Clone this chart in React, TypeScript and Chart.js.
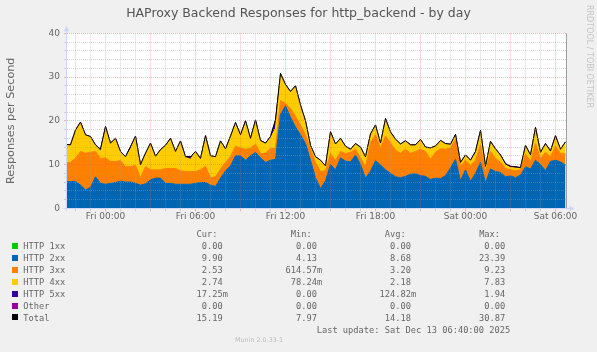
import React, { useEffect, useRef } from "react";
import { Chart, registerables } from "chart.js";

Chart.register(...registerables);

// ---- time axis: samples every 20 minutes, hours relative to Fri 00:00 ----
const startHour = -8 / 3;
const stepHours = 1 / 3;
const xMin = -2.567;
const xMax = 30.733;
const hourTicks: number[] = [];
for (let h = -2; h <= 30; h++) hourTicks.push(h);
const dayNames = ["Fri", "Sat"];

// ---- series values (responses per second) ----
const http1xx = [
  0, 0, 0, 0, 0, 0, 0, 0, 0, 0, 0, 0, 0, 0, 0, 0, 0, 0, 0, 0,
  0, 0, 0, 0, 0, 0, 0, 0, 0, 0, 0, 0, 0, 0, 0, 0, 0, 0, 0, 0,
  0, 0, 0, 0, 0, 0, 0, 0, 0, 0, 0, 0, 0, 0, 0, 0, 0, 0, 0, 0,
  0, 0, 0, 0, 0, 0, 0, 0, 0, 0, 0, 0, 0, 0, 0, 0, 0, 0, 0, 0,
  0, 0, 0, 0, 0, 0, 0, 0, 0, 0, 0, 0, 0, 0, 0, 0, 0, 0, 0, 0, 0,
];
const http2xx = [
  6.1, 6.1, 6.1, 5.3, 4.2, 4.8, 7.2, 5.7, 5.5, 5.7, 5.9, 6.2, 6.0, 6.0, 5.7, 5.3, 5.6, 6.5, 6.9, 6.9,
  5.7, 5.7, 5.5, 5.5, 5.5, 5.5, 5.7, 5.9, 5.9, 5.3, 5.0, 6.9, 8.6, 9.7, 12.0, 12.0, 11.0, 12.0, 12.8, 11.5,
  10.5, 11.0, 11.2, 21.5, 23.4, 20.8, 18.6, 16.8, 14.8, 11.0, 7.0, 4.5, 6.3, 10.0, 8.8, 11.5, 10.8, 10.6, 12.2, 10.0,
  6.9, 8.5, 10.9, 9.9, 8.8, 8.0, 7.2, 7.0, 7.3, 7.8, 7.9, 7.5, 7.3, 6.6, 6.9, 6.8, 7.5, 9.2, 11.2, 6.3,
  8.8, 6.2, 8.0, 10.5, 5.8, 9.0, 8.4, 8.2, 7.2, 7.4, 7.0, 7.6, 9.5, 9.0, 11.0, 10.0, 8.6, 10.7, 11.0, 10.6, 9.9,
];
const http3xx = [
  4.2, 4.4, 5.4, 7.7, 8.4, 8.0, 5.8, 5.7, 6.0, 5.0, 4.8, 4.7, 3.5, 3.5, 4.1, 1.7, 3.9, 2.3, 1.9, 1.9,
  3.4, 3.4, 3.6, 3.1, 2.9, 2.9, 2.7, 2.9, 3.7, 1.7, 2.2, 2.1, 1.9, 2.1, 2.2, 1.8, 2.5, 1.7, 1.9, 1.0,
  2.1, 2.7, 2.5, 3.1, 0.6, 2.0, 2.4, 2.2, 2.0, 2.5, 3.5, 3.9, 2.3, 2.5, 2.2, 1.5, 1.7, 2.2, 1.3, 1.5,
  2.6, 6.5, 5.9, 3.9, 7.7, 7.0, 6.1, 5.6, 6.2, 4.8, 5.1, 6.0, 5.7, 4.6, 5.9, 6.8, 6.0, 4.6, 4.6, 3.2,
  2.2, 3.6, 3.0, 4.0, 2.4, 4.0, 3.0, 2.3, 1.9, 1.4, 1.6, 1.2, 2.9, 1.7, 3.8, 1.4, 4.2, 1.1, 3.2, 1.9, 2.53,
];
const http4xx = [
  4.2, 3.9, 6.3, 6.6, 4.1, 3.5, 1.4, 1.6, 7.1, 4.1, 5.2, 2.0, 2.2, 4.0, 6.6, 2.9, 3.0, 6.0, 3.0, 4.5,
  5.2, 6.8, 3.8, 6.7, 3.2, 2.8, 4.5, 2.5, 6.9, 4.9, 4.5, 6.3, 3.0, 4.6, 5.3, 2.9, 6.4, 2.2, 5.4, 2.9,
  2.2, 2.4, 4.6, 6.1, 4.2, 3.8, 6.9, 4.5, 3.1, 0.8, 1.2, 2.5, 1.0, 4.9, 3.6, 2.9, 1.6, 0.6, 1.2, 2.4,
  2.2, 1.9, 2.2, 1.0, 3.9, 2.4, 2.4, 2.0, 1.9, 1.8, 1.4, 2.2, 0.9, 2.5, 1.4, 1.8, 1.2, 0.8, 1.0, 0.9,
  1.1, 1.1, 1.6, 3.2, 1.3, 2.2, 2.1, 1.5, 0.8, 0.5, 0.6, 0.4, 1.9, 1.4, 3.6, 1.3, 1.9, 1.2, 2.3, 0.9, 2.74,
];
const http5xx = [
  0.1, 0.1, 0.1, 0.1, 0.1, 0.1, 0.1, 0.5, 0.1, 0.1, 0.1, 0.1, 0.1, 0.6, 0.1, 0.1, 0.1, 0.1, 0.1, 0.1,
  0.1, 0.1, 0.1, 0.1, 0.2, 0.6, 0.1, 0.1, 0.1, 0.1, 0.1, 0.1, 0.1, 0.1, 0.1, 0.1, 0.1, 0.1, 0.1, 0.1,
  0.1, 0.3, 1.9, 0.1, 0.1, 0.1, 0.1, 0.1, 0.1, 0.1, 0.1, 0.1, 0.1, 0.1, 0.1, 0.1, 0.1, 0.1, 0.1, 0.1,
  0.05, 0.1, 0.05, 0.1, 0.1, 0.05, 0.1, 0.1, 0.05, 0.1, 0.1, 0.05, 0.1, 0.1, 0.05, 0.1, 0.1, 0.05, 0.1, 0.1,
  0.1, 0.1, 0.4, 0.1, 0.1, 0.1, 0.1, 0.2, 0.3, 0.3, 0.3, 0.1, 0.1, 0.1, 0.1, 0.1, 0.1, 0.1, 0.1, 0.1, 0.02,
];
const httpOther = [
  0, 0, 0, 0, 0, 0, 0, 0, 0, 0, 0, 0, 0, 0, 0, 0, 0, 0, 0, 0,
  0, 0, 0, 0, 0, 0, 0, 0, 0, 0, 0, 0, 0, 0, 0, 0, 0, 0, 0, 0,
  0, 0, 0, 0, 0, 0, 0, 0, 0, 0, 0, 0, 0, 0, 0, 0, 0, 0, 0, 0,
  0, 0, 0, 0, 0, 0, 0, 0, 0, 0, 0, 0, 0, 0, 0, 0, 0, 0, 0, 0,
  0, 0, 0, 0, 0, 0, 0, 0, 0, 0, 0, 0, 0, 0, 0, 0, 0, 0, 0, 0, 0,
];

// ---- legend table ----
const legendNames = ["HTTP 1xx", "HTTP 2xx", "HTTP 3xx", "HTTP 4xx", "HTTP 5xx", "Other", "Total"];
const legendColors = ["#00CC00", "#0066B3", "#FF8000", "#FFCC00", "#330099", "#990099", "#000000"];
const curValues = ["0.00", "9.90", "2.53", "2.74", "17.25m", "0.00", "15.19"];
const minValues = ["0.00", "4.13", "614.57m", "78.24m", "0.00", "0.00", "7.97"];
const avgValues = ["0.00", "8.68", "3.20", "2.18", "124.82m", "0.00", "14.18"];
const maxValues = ["0.00", "23.39", "9.23", "7.83", "1.94", "0.00", "30.87"];
const columnHeaders = ["Cur:", "Min:", "Avg:", "Max:"];

const titleText = "HAProxy Backend Responses for http_backend - by day";
const yTitle = "Responses per Second";
const lastUpdate = "Last update: Sat Dec 13 06:40:00 2025";
const footer = "Munin 2.0.33-1";
const sideText = "RRDTOOL / TOBI OETIKER";

const MONO = "'DejaVu Sans Mono', monospace";
const SANS = "'DejaVu Sans', sans-serif";
const FONT_COLOR = "#666666";
const MINOR = "rgba(160,160,160,0.42)";
const MAJOR = "rgba(235,90,90,0.42)";
const AXIS = "#CFD6F8";

function fmtField(v: string): string {
  const hasSuffix = /[a-zA-Z]$/.test(v);
  const num = hasSuffix ? v.slice(0, -1) : v;
  const suf = hasSuffix ? v.slice(-1) : " ";
  return num.padStart(6, " ") + suf;
}

export default function App() {
  const canvasRef = useRef<HTMLCanvasElement | null>(null);

  useEffect(() => {
    if (!canvasRef.current) return;
    const times = http2xx.map((_, i) => startHour + i * stepHours);
    const pts = (arr: number[]) => arr.map((v, i) => ({ x: times[i], y: v }));
    const total = http2xx.map(
      (_, i) => http1xx[i] + http2xx[i] + http3xx[i] + http4xx[i] + http5xx[i] + httpOther[i]
    );

    const area = (label: string, data: number[], color: string, fill: any, bw = 1) => ({
      label,
      data: pts(data),
      yAxisID: "y",
      backgroundColor: color,
      borderColor: color,
      borderWidth: bw,
      pointRadius: 0,
      tension: 0,
      fill,
    });

    const plugin = {
      id: "muninFrame",
      beforeDraw(chart: any) {
        const { ctx, chartArea } = chart;
        ctx.save();
        ctx.fillStyle = "#F0F0F0";
        ctx.fillRect(0, 0, chart.width, chart.height);
        ctx.fillStyle = "#FFFFFF";
        ctx.fillRect(chartArea.left, chartArea.top, chartArea.right - chartArea.left, chartArea.bottom - chartArea.top);
        ctx.restore();
      },
      afterDraw(chart: any) {
        const { ctx, chartArea } = chart;
        const b = Math.round(chartArea.bottom) + 0.5;
        const l = Math.round(chartArea.left) - 0.5;
        const r = Math.round(chartArea.right) + 0.5;
        ctx.save();
        ctx.strokeStyle = "#A0A0A0";
        ctx.lineWidth = 1;
        ctx.beginPath();
        ctx.moveTo(r - 1, chartArea.top);
        ctx.lineTo(r - 1, b);
        ctx.stroke();
        ctx.strokeStyle = AXIS;
        ctx.fillStyle = AXIS;
        ctx.beginPath();
        ctx.moveTo(l - 3, b);
        ctx.lineTo(r + 3, b);
        ctx.moveTo(l, b + 3);
        ctx.lineTo(l, chartArea.top - 3);
        ctx.stroke();
        ctx.beginPath();
        ctx.moveTo(r + 7, b);
        ctx.lineTo(r + 2, b - 3);
        ctx.lineTo(r + 2, b + 3);
        ctx.closePath();
        ctx.fill();
        ctx.beginPath();
        ctx.moveTo(l, chartArea.top - 7);
        ctx.lineTo(l - 3, chartArea.top - 2);
        ctx.lineTo(l + 3, chartArea.top - 2);
        ctx.closePath();
        ctx.fill();
        ctx.restore();
      },
    };

    const chart = new Chart(canvasRef.current, {
      type: "line",
      data: {
        datasets: [
          {
            label: "Total",
            data: pts(total),
            yAxisID: "yT",
            borderColor: "#000000",
            borderWidth: 1,
            pointRadius: 0,
            tension: 0,
            fill: false,
          },
          area(legendNames[0], http1xx, legendColors[0], "origin", 0),
          area(legendNames[1], http2xx, legendColors[1], "-1"),
          area(legendNames[2], http3xx, legendColors[2], "-1"),
          area(legendNames[3], http4xx, legendColors[3], "-1"),
          area(legendNames[4], http5xx, legendColors[4], "-1"),
          area(legendNames[5], httpOther, legendColors[5], "-1", 0),
        ] as any,
      },
      options: {
        responsive: false,
        animation: false,
        devicePixelRatio: 1,
        layout: { padding: { left: 0, right: 30.5, top: 33.3, bottom: 127.7 } },
        plugins: { legend: { display: false }, tooltip: { enabled: false }, title: { display: false } },
        scales: {
          x: {
            type: "linear",
            min: xMin,
            max: xMax,
            afterBuildTicks: (s: any) => {
              s.ticks = hourTicks.map((v) => ({ value: v }));
            },
            afterFit: (s: any) => {
              s.height = 16;
            },
            grid: {
              z: 1,
              lineWidth: 1,
              drawTicks: true,
              tickLength: 3,
              color: (c: any) => (c.tick && c.tick.value % 3 === 0 ? MAJOR : MINOR),
            },
            border: { display: false, dash: [1, 1] },
            ticks: {
              autoSkip: false,
              maxRotation: 0,
              minRotation: 0,
              padding: 0,
              color: FONT_COLOR,
              font: { family: SANS, size: 9 },
              callback: (v: any) => {
                const h = Number(v);
                if (h % 6 !== 0) return "";
                const day = dayNames[Math.floor(h / 24)];
                const hh = ((h % 24) + 24) % 24;
                return `${day} ${String(hh).padStart(2, "0")}:00`;
              },
            },
          },
          y: {
            stacked: true,
            min: 0,
            max: 40,
            afterBuildTicks: (s: any) => {
              const t = [];
              for (let v = 0; v <= 40; v += 2) t.push({ value: v });
              s.ticks = t;
            },
            afterFit: (s: any) => {
              s.width = 67;
            },
            grid: {
              z: 1,
              lineWidth: 1,
              drawTicks: true,
              tickLength: 3,
              color: (c: any) => (c.tick && c.tick.value % 10 === 0 ? MAJOR : MINOR),
            },
            border: { display: false, dash: [1, 1] },
            ticks: {
              autoSkip: false,
              padding: 4,
              color: FONT_COLOR,
              font: { family: SANS, size: 9 },
              callback: (v: any) => (Number(v) % 10 === 0 ? String(v) : ""),
            },
            title: {
              display: true,
              text: yTitle,
              color: FONT_COLOR,
              font: { family: SANS, size: 11.2 },
              padding: { top: 4, bottom: 0 },
            },
          },
          yT: { display: false, min: 0, max: 40 },
        },
      } as any,
      plugins: [plugin],
    });
    return () => chart.destroy();
  }, []);

  const cw = 5.237;
  const colStarts = [191.3, 285.6, 379.6, 473.9];
  const rowCenters = [245.7, 257.7, 269.7, 281.7, 293.7, 305.5, 317.4];
  const monoStyle: React.CSSProperties = {
    position: "absolute",
    fontFamily: MONO,
    fontSize: "8.7px",
    lineHeight: "12px",
    color: FONT_COLOR,
    whiteSpace: "pre",
    margin: 0,
  };
  const columns = [curValues, minValues, avgValues, maxValues];

  return (
    <div
      style={{
        position: "fixed",
        left: 0,
        top: 0,
        width: 597,
        height: 352,
        background: "#F0F0F0",
        overflow: "hidden",
      }}
    >
      <canvas ref={canvasRef} width={597} height={352} style={{ display: "block", width: 597, height: 352 }} />
      <div
        style={{
          position: "absolute",
          left: 0,
          top: 5.2,
          width: 597,
          textAlign: "center",
          fontFamily: SANS,
          fontSize: "12.5px",
          lineHeight: "16px",
          color: "#555555",
          whiteSpace: "pre",
        }}
      >
        {titleText}
      </div>
      <div
        style={{
          position: "absolute",
          left: 585,
          top: 5,
          writingMode: "vertical-rl",
          fontFamily: SANS,
          fontSize: "8px",
          lineHeight: "8px",
          color: "#C4C4C4",
          whiteSpace: "pre",
        }}
      >
        {sideText}
      </div>
      {columnHeaders.map((h, k) => (
        <div key={"h" + k} style={{ ...monoStyle, left: colStarts[k] + cw, top: 233.3 - 5.8 }}>
          {h}
        </div>
      ))}
      {legendNames.map((name, r) => (
        <React.Fragment key={name}>
          <div
            style={{
              position: "absolute",
              left: 12,
              top: rowCenters[r] - 3,
              width: 6,
              height: 6,
              background: legendColors[r],
            }}
          />
          <div style={{ ...monoStyle, left: 23.3, top: rowCenters[r] - 5.8 }}>{name}</div>
          {columns.map((col, k) => (
            <div key={k} style={{ ...monoStyle, left: colStarts[k], top: rowCenters[r] - 5.8 }}>
              {fmtField(col[r])}
            </div>
          ))}
        </React.Fragment>
      ))}
      <div style={{ ...monoStyle, left: 316.7, top: 329.3 - 5.8 }}>{lastUpdate}</div>
      <div
        style={{
          position: "absolute",
          left: 235,
          top: 341.3 - 5,
          fontFamily: SANS,
          fontSize: "6.4px",
          lineHeight: "9px",
          color: "#BBBBBB",
          whiteSpace: "pre",
        }}
      >
        {footer}
      </div>
    </div>
  );
}
